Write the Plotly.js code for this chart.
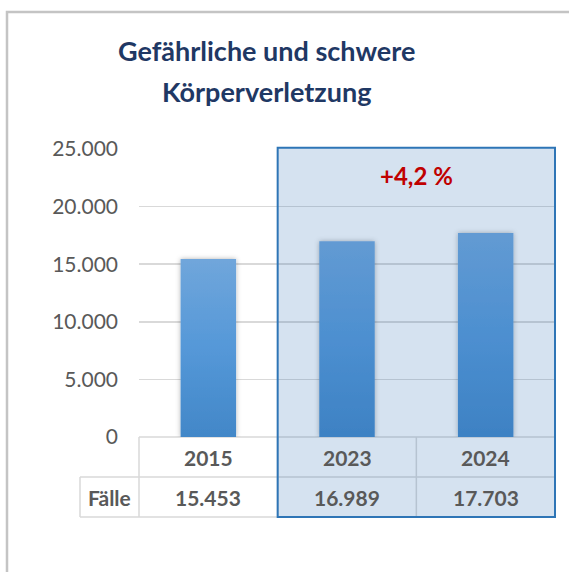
<!DOCTYPE html>
<html>
<head>
<meta charset="utf-8">
<script src="https://cdn.plot.ly/plotly-3.0.1.min.js"></script>
<style>
html,body{margin:0;padding:0;background:#fff;}
#chart{width:569px;height:572px;}
</style>
</head>
<body>
<div id="chart"></div>
<script>
// ---- data ----
const years = ['2015', '2023', '2024'];
const cases = [15453, 16989, 17703];
const rowLabel = 'Fälle';
const titleLines = ['Gefährliche und schwere', 'Körperverletzung'];
const yTicks = [0, 5000, 10000, 15000, 20000, 25000];

// ---- helpers ----
function fmt(n) { return String(n).replace(/\B(?=(\d{3})+(?!\d))/g, '.'); }
const pct = (cases[2] - cases[1]) / cases[1] * 100;
const changeText = (pct >= 0 ? '+' : '') + pct.toFixed(1).replace('.', ',') + ' %';

const FONT = 'Lato, "Open Sans", sans-serif';
const GRAY = '#595959';
const plotH = 288, plotW = 416;
const rowH = 40 / plotH;
const n = years.length;
const colW = 1 / n;
const labelX0 = -59 / plotW;

const shapes = [];
const lineStyle = {color: '#D9D9D9', width: 1.5};
// table horizontal lines
shapes.push({type: 'line', xref: 'paper', yref: 'paper', x0: 0, x1: 1, y0: 0, y1: 0, line: lineStyle, layer: 'below'});
shapes.push({type: 'line', xref: 'paper', yref: 'paper', x0: labelX0, x1: 1, y0: -rowH, y1: -rowH, line: lineStyle, layer: 'below'});
shapes.push({type: 'line', xref: 'paper', yref: 'paper', x0: labelX0, x1: 1, y0: -2 * rowH, y1: -2 * rowH, line: lineStyle, layer: 'below'});
for (let i = 0; i <= n; i++) {
  shapes.push({type: 'line', xref: 'paper', yref: 'paper', x0: i * colW, x1: i * colW, y0: 0, y1: -2 * rowH, line: lineStyle, layer: 'below'});
}
shapes.push({type: 'line', xref: 'paper', yref: 'paper', x0: labelX0, x1: labelX0, y0: -rowH, y1: -2 * rowH, line: lineStyle, layer: 'below'});
// highlight box
shapes.push({type: 'rect', xref: 'paper', yref: 'paper', x0: colW, x1: 1, y0: -2 * rowH, y1: 1.004,
  fillcolor: 'rgba(46,110,180,0.2)', line: {color: '#2E75B6', width: 2}, layer: 'above'});
// outer frame
shapes.push({type: 'path', xref: 'paper', yref: 'paper',
  path: 'M ' + (-132 / plotW) + ',' + (-150 / plotH) + ' L ' + (-132 / plotW) + ',' + (425 / plotH) + ' L ' + (440 / plotW) + ',' + (425 / plotH),
  line: {color: '#C4C4C4', width: 2.5}, layer: 'below'});

const annotations = [];
annotations.push({xref: 'paper', yref: 'paper', x: 127 / plotW, y: 387 / plotH, text: '<b>' + titleLines[0] + '</b>',
  showarrow: false, xanchor: 'center', yanchor: 'middle', font: {family: FONT, size: 27, color: '#1F3864'}});
annotations.push({xref: 'paper', yref: 'paper', x: 127 / plotW, y: 346 / plotH, text: '<b>' + titleLines[1] + '</b>',
  showarrow: false, xanchor: 'center', yanchor: 'middle', font: {family: FONT, size: 27, color: '#1F3864'}});
years.forEach((yr, i) => {
  annotations.push({xref: 'paper', yref: 'paper', x: (i + 0.5) * colW, y: -rowH / 2, text: '<b>' + yr + '</b>', showarrow: false,
    xanchor: 'center', yanchor: 'middle', font: {family: FONT, size: 21, color: GRAY}});
  annotations.push({xref: 'paper', yref: 'paper', x: (i + 0.5) * colW, y: -1.5 * rowH, text: '<b>' + fmt(cases[i]) + '</b>', showarrow: false,
    xanchor: 'center', yanchor: 'middle', font: {family: FONT, size: 21, color: GRAY}});
});
annotations.push({xref: 'paper', yref: 'paper', x: labelX0 / 2, y: -1.5 * rowH, text: '<b>' + rowLabel + '</b>', showarrow: false,
  xanchor: 'center', yanchor: 'middle', font: {family: FONT, size: 21, color: GRAY}});
annotations.push({xref: 'paper', yref: 'paper', x: (colW + 1) / 2, y: 1 - 26 / plotH, text: '<b>' + changeText + '</b>', showarrow: false,
  xanchor: 'center', yanchor: 'middle', font: {family: FONT, size: 24, color: '#C00000'}});

const trace = {
  type: 'bar', x: years, y: cases, width: 0.4,
  marker: {color: '#5597D6', line: {width: 0}},
  hoverinfo: 'skip'
};

const layout = {
  width: 569, height: 572,
  margin: {l: 139, r: 14, t: 149, b: 135},
  paper_bgcolor: '#ffffff', plot_bgcolor: 'rgba(0,0,0,0)',
  separators: ',.',
  showlegend: false,
  xaxis: {type: 'category', range: [-0.5, n - 0.5], showticklabels: false, showgrid: false, zeroline: false, showline: false, fixedrange: true},
  yaxis: {range: [0, 25000], tickvals: yTicks, tickformat: ',d', showgrid: true, gridcolor: '#D9D9D9', gridwidth: 1.5,
    zeroline: false, showline: false, ticks: '', ticklabelstandoff: 20,
    tickfont: {family: FONT, size: 21, color: GRAY}, fixedrange: true},
  shapes: shapes,
  annotations: annotations
};

Plotly.newPlot('chart', [trace], layout, {displayModeBar: false, staticPlot: true}).then(function (gd) {
  const svg = gd.querySelector('.main-svg');
  let defs = svg.querySelector('defs');
  const ns = 'http://www.w3.org/2000/svg';
  const grad = document.createElementNS(ns, 'linearGradient');
  grad.setAttribute('id', 'barGrad');
  grad.setAttribute('x1', '0'); grad.setAttribute('y1', '0');
  grad.setAttribute('x2', '0'); grad.setAttribute('y2', '1');
  [['0', '#70A6DB'], ['0.5', '#5598D8'], ['1', '#4287C8']].forEach(function (s) {
    const st = document.createElementNS(ns, 'stop');
    st.setAttribute('offset', s[0]); st.setAttribute('stop-color', s[1]);
    grad.appendChild(st);
  });
  defs.appendChild(grad);
  const filt = document.createElementNS(ns, 'filter');
  filt.setAttribute('id', 'barShadow');
  filt.setAttribute('x', '-30%'); filt.setAttribute('y', '-10%');
  filt.setAttribute('width', '160%'); filt.setAttribute('height', '120%');
  const ds = document.createElementNS(ns, 'feDropShadow');
  ds.setAttribute('dx', '0'); ds.setAttribute('dy', '0');
  ds.setAttribute('stdDeviation', '2.5');
  ds.setAttribute('flood-color', '#000'); ds.setAttribute('flood-opacity', '0.3');
  filt.appendChild(ds);
  defs.appendChild(filt);
  gd.querySelectorAll('.barlayer .point path').forEach(function (p) {
    p.style.fill = 'url(#barGrad)';
    p.setAttribute('filter', 'url(#barShadow)');
  });
});
</script>
</body>
</html>
